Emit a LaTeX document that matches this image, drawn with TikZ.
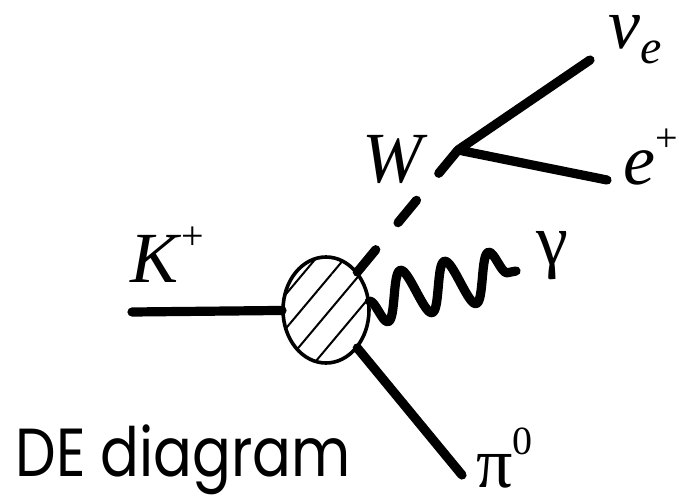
\documentclass[tikz,border=0pt]{standalone}
\usepackage{fontspec}
\setmainfont{Liberation Serif}
\newfontfamily\captionfont{Poppins}
\usetikzlibrary{shapes.geometric,patterns.meta,decorations.pathmorphing}

\newcommand{\sups}[1]{\raisebox{16.5pt}{\fontsize{20}{22}\selectfont #1}}
\newcommand{\subs}[1]{\raisebox{-7.5pt}{\fontsize{24}{26}\selectfont #1}}

\tikzset{
  particle/.style={line width=4.6pt, line cap=round, line join=round},
  boson/.style={particle, dash pattern=on 14.5pt off 17.5pt},
  photon/.style={particle, decorate, decoration={snake, segment length=22.5pt, amplitude=12pt, mirror}},
  partlabel/.style={inner sep=0pt, anchor=base west, font=\fontsize{36}{40}\selectfont},
}

\begin{document}
\begin{tikzpicture}[x=0.5pt, y=-0.5pt]
		\useasboundingbox (0,0) rectangle (679,498);

		% Blob
		\node (blob) [ellipse, draw, line width=1.8pt, minimum width=43pt, minimum height=53pt, inner sep=0pt, pattern={Lines[angle=50, distance=11pt, line width=1pt]}] at (326,310) {};

		% Free ends
		\coordinate (kin) at (132,312);
		\coordinate (piend) at (462,475);
		\coordinate (wv) at (458,150);
		\coordinate (nuend) at (590,60);
		\coordinate (epend) at (607,180);
		\coordinate (gend) at (516,271);

		% Lines
		\draw[particle] (kin) -- (blob);
		\draw[particle] (blob) -- (piend);
		\draw[boson] (blob) -- (wv);
		\draw[particle] (nuend) -- (wv) -- (epend);
		\draw[photon] (blob) -- (gend);

		% Labels
		\node (klabel) [partlabel] at (130,282) {\textit{K}\sups{+}};
		\node (wlabel) [partlabel] at (362,182) {\textit{W}};
		\node (nulabel) [partlabel] at (608,48) {\textit{ν}\subs{\textit{e}}};
		\node (eplabel) [partlabel] at (623,184) {\textit{e}\sups{+}};
		\node (glabel) [partlabel] at (536,264) {γ};
		\node (pilabel) [partlabel] at (476,487) {π\sups{0}};

		% Caption
		\node (caption) [inner sep=0pt, anchor=base west, font=\captionfont\fontsize{34}{40}\selectfont] at (15,476) {\scalebox{0.845}[1]{DE diagram}};
	\end{tikzpicture}
\end{document}
